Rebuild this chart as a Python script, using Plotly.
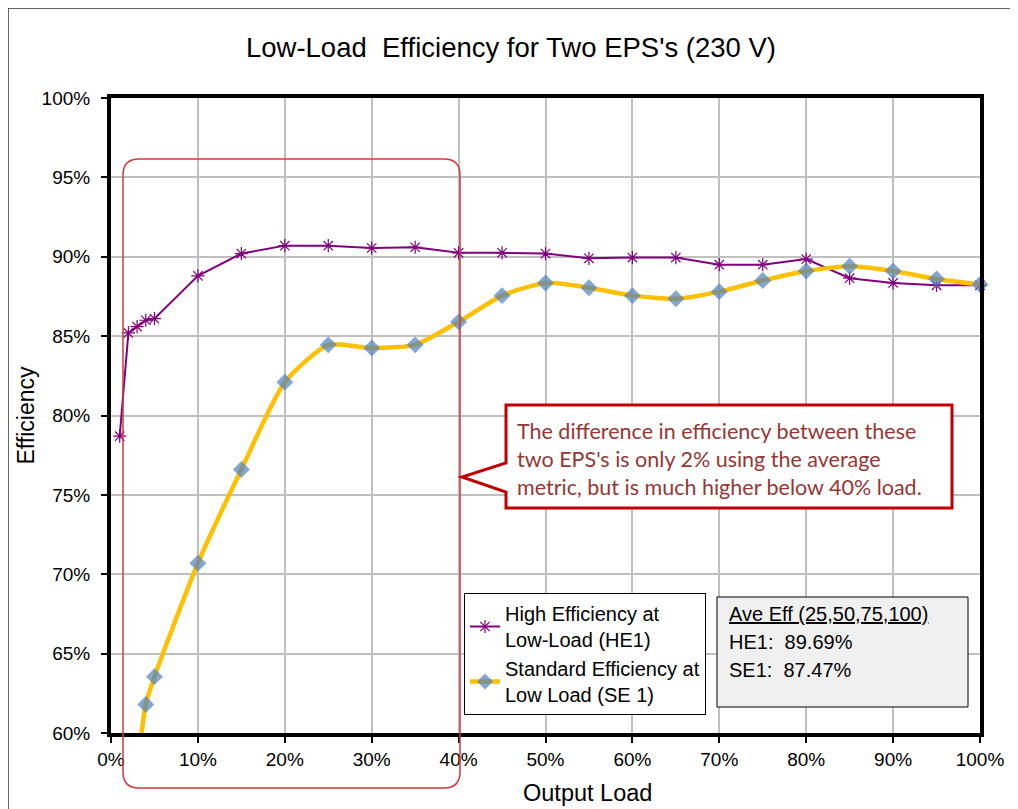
import plotly.graph_objects as go

# ---------------- data ----------------
he_load = [1, 2, 3, 4, 5, 10, 15, 20, 25, 30, 35, 40, 45, 50, 55, 60, 65, 70, 75, 80, 85, 90, 95, 100]
he_eff = [78.7, 85.2, 85.6, 86.0, 86.1, 88.8, 90.2, 90.7, 90.7, 90.55, 90.6, 90.25, 90.25, 90.2, 89.9,
          89.95, 89.95, 89.5, 89.5, 89.85, 88.65, 88.35, 88.2, 88.2]

se_load = [3, 4, 5, 10, 15, 20, 25, 30, 35, 40, 45, 50, 55, 60, 65, 70, 75, 80, 85, 90, 95, 100]
se_eff = [57.5, 61.8, 63.55, 70.7, 76.6, 82.1, 84.45, 84.25, 84.45, 85.9, 87.55, 88.35, 88.05, 87.55,
          87.35, 87.8, 88.5, 89.1, 89.4, 89.1, 88.6, 88.25]

x_ticks = list(range(0, 101, 10))
x_ticktext = [f"{v}%" for v in x_ticks]
y_ticks = list(range(60, 101, 5))
y_ticktext = [f"{v}%" for v in y_ticks]

title_text = "Low-Load\u00a0 Efficiency for Two EPS's (230 V)"
x_title = "Output Load"
y_title = "Efficiency"
he_name = "High Efficiency at<br>Low-Load (HE1)"
se_name = "Standard Efficiency at<br>Low Load (SE 1)"
callout_lines = ["The difference in efficiency between these",
                 "two EPS's is only 2% using the average",
                 "metric, but is much higher below 40% load."]
ave_lines = ["<u>Ave Eff (25,50,75,100)</u>", "HE1:\u00a0 89.69%", "SE1:\u00a0 87.47%"]

# ---------------- geometry helpers (screenshot pixel coords) ----------------
OFF = 8                      # page body margin
W, H = 1018 - OFF, 809 - OFF  # figure size
L, R, T, B = 111, 980, 98, 733   # plot area in screenshot pixels


def px(x):
    return (x - L) / (R - L)


def py(y):
    return (B - y) / (B - T)


FONT = "Liberation Sans, Arial, sans-serif"

fig = go.Figure()

fig.add_trace(go.Scatter(
    x=he_load, y=he_eff, mode="lines+markers", name=he_name,
    line=dict(color="#800080", width=2),
    marker=dict(symbol="asterisk-open", size=11, color="#800080", line=dict(color="#800080", width=1.2)),
    cliponaxis=False,
))

fig.add_trace(go.Scatter(
    x=se_load, y=se_eff, mode="lines+markers", name=se_name,
    line=dict(color="#FFC000", width=4.5, shape="spline", smoothing=0.6),
    marker=dict(symbol="diamond", size=[13 if v >= 60 else 0 for v in se_eff], color="#4F81BD",
                line=dict(width=0)),
    cliponaxis=False,
))

shapes = []

# outer chart border (top & left visible)
shapes.append(dict(type="line", xref="paper", yref="paper", x0=px(8), x1=px(1030), y0=py(8), y1=py(8),
                   line=dict(color="#333333", width=1.5), layer="above"))
shapes.append(dict(type="line", xref="paper", yref="paper", x0=px(8), x1=px(8), y0=py(8), y1=py(820),
                   line=dict(color="#333333", width=1.5), layer="above"))

# red rounded highlight rectangle
x0, x1, y0, y1, r = 123, 460, 159, 788, 16
path = (f"M {px(x0)},{py(y0 + r)} Q {px(x0)},{py(y0)} {px(x0 + r)},{py(y0)} "
        f"L {px(x1 - r)},{py(y0)} Q {px(x1)},{py(y0)} {px(x1)},{py(y0 + r)} "
        f"L {px(x1)},{py(y1 - r)} Q {px(x1)},{py(y1)} {px(x1 - r)},{py(y1)} "
        f"L {px(x0 + r)},{py(y1)} Q {px(x0)},{py(y1)} {px(x0)},{py(y1 - r)} Z")
shapes.append(dict(type="path", xref="paper", yref="paper", path=path,
                   line=dict(color="#D03A3A", width=1.5), layer="above"))

# callout box with pointer
cx0, cx1, cy0, cy1 = 506, 952, 405, 508
cpath = (f"M {px(cx0)},{py(cy0)} L {px(cx1)},{py(cy0)} L {px(cx1)},{py(cy1)} L {px(cx0)},{py(cy1)} "
         f"L {px(cx0)},{py(492)} L {px(462)},{py(477)} L {px(cx0)},{py(463)} Z")
shapes.append(dict(type="path", xref="paper", yref="paper", path=cpath, fillcolor="white",
                   line=dict(color="#C00000", width=3), layer="above"))

# ave eff box
shapes.append(dict(type="rect", xref="paper", yref="paper", x0=px(717), x1=px(968), y0=py(597), y1=py(707),
                   fillcolor="#F0F0F0", line=dict(color="black", width=1), layer="above"))

annotations = []
for i, t in enumerate(callout_lines):
    annotations.append(dict(x=px(515), y=py(431 + 28 * i), xref="paper", yref="paper", text=t,
                            showarrow=False, xanchor="left", yanchor="middle",
                            font=dict(family="Lato, Carlito, sans-serif", size=21.5, color="#953735")))
for i, t in enumerate(ave_lines):
    annotations.append(dict(x=px(727), y=py(614 + 28 * i), xref="paper", yref="paper", text=t,
                            showarrow=False, xanchor="left", yanchor="middle",
                            font=dict(family=FONT, size=20, color="black")))
# x axis title (offset right of plot centre, as in the original)
annotations.append(dict(x=px(587), y=py(793), xref="paper", yref="paper", text=x_title,
                        showarrow=False, xanchor="center", yanchor="middle",
                        font=dict(family=FONT, size=23.5, color="black")))

fig.update_layout(
    width=W, height=H,
    margin=dict(l=L - OFF, r=W - (R - OFF), t=T - OFF, b=H - (B - OFF)),
    paper_bgcolor="white", plot_bgcolor="white",
    title=dict(text=title_text, x=(511 - OFF) / W, xref="container", xanchor="center",
               y=1 - (47 - OFF) / H, yref="container", yanchor="middle",
               font=dict(family=FONT, size=27.5, color="black")),
    font=dict(family=FONT, color="black"),
    xaxis=dict(range=[0, 100], tickvals=x_ticks, ticktext=x_ticktext, showgrid=True, gridcolor="#C0C0C0",
               gridwidth=2, showline=True, linecolor="black", linewidth=4, mirror=True, ticks="outside",
               ticklen=6, tickwidth=2, tickcolor="black", tickfont=dict(size=19, family=FONT),
               automargin=False, zeroline=False),
    yaxis=dict(range=[60, 100], tickvals=y_ticks, ticktext=y_ticktext, showgrid=True, gridcolor="#C0C0C0",
               gridwidth=2, showline=True, linecolor="black", linewidth=4, mirror=True, ticks="outside",
               ticklen=6, tickwidth=2, tickcolor="black", tickfont=dict(size=19, family=FONT),
               ticklabelstandoff=7, automargin=False,
               title=dict(text=y_title, font=dict(size=23, family=FONT), standoff=2),
               zeroline=False),
    legend=dict(x=px(464), y=py(593), xanchor="left", yanchor="top", bgcolor="white",
                bordercolor="black", borderwidth=1, font=dict(size=20, family=FONT),
                tracegroupgap=0, itemwidth=30),
    shapes=shapes,
    annotations=annotations,
)

fig.write_html("out.html")
